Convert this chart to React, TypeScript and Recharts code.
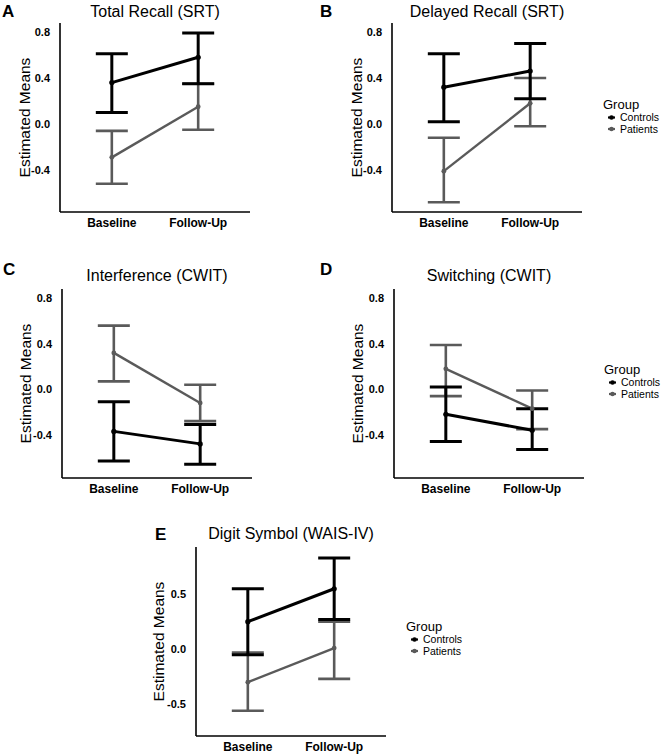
import { LineChart, Line, XAxis, YAxis, ErrorBar } from "recharts";

const FONT = "'Liberation Sans', Arial, sans-serif";

const timepoints = ["Baseline", "Follow-Up"];
const groups = ["Controls", "Patients"];
const groupColors = ["#000000", "#5a5a5a"];

// [mean, lower CI, upper CI] for each timepoint
const totalRecallControls = [[0.36, 0.1, 0.61], [0.58, 0.35, 0.79]];
const totalRecallPatients = [[-0.29, -0.52, -0.06], [0.15, -0.05, 0.35]];

const delayedRecallControls = [[0.32, 0.02, 0.61], [0.46, 0.22, 0.7]];
const delayedRecallPatients = [[-0.41, -0.68, -0.12], [0.18, -0.02, 0.4]];

const interferenceControls = [[-0.37, -0.63, -0.11], [-0.48, -0.66, -0.31]];
const interferencePatients = [[0.32, 0.07, 0.56], [-0.12, -0.28, 0.04]];

const switchingControls = [[-0.22, -0.46, 0.02], [-0.36, -0.53, -0.17]];
const switchingPatients = [[0.18, -0.06, 0.39], [-0.17, -0.35, -0.01]];

const digitSymbolControls = [[0.25, -0.05, 0.55], [0.55, 0.27, 0.83]];
const digitSymbolPatients = [[-0.3, -0.56, -0.03], [0.01, -0.27, 0.25]];

const ticksCognitive = [-0.4, 0, 0.4, 0.8];
const ticksDigit = [-0.5, 0, 0.5];

type Triple = number[];

// rows for recharts; error values are [below, above] distances from the mean
const buildRows = (ctrl: Triple[], pat: Triple[]) =>
  timepoints.map((t, i) => ({
    x: i + 1,
    label: t,
    ctrl: ctrl[i][0],
    ctrlErr: [ctrl[i][0] - ctrl[i][1], ctrl[i][2] - ctrl[i][0]],
    pat: pat[i][0],
    patErr: [pat[i][0] - pat[i][1], pat[i][2] - pat[i][0]],
  }));

interface PanelCfg {
  letter: string;
  title: string;
  left: number;
  top: number;
  width: number;
  height: number;
  plot: { x0: number; x1: number; y0: number; y1: number };
  domain: [number, number];
  ticks: number[];
  rows: ReturnType<typeof buildRows>;
  letterX: number;
  letterY: number;
  titleY: number;
  yLabX: number;
  legend?: { x: number; y: number };
}

const panels: PanelCfg[] = [
  {
    letter: "A", title: "Total Recall (SRT)", left: 0, top: 0, width: 331, height: 245,
    plot: { x0: 60, x1: 250, y0: 23, y1: 212 }, domain: [-0.765, 0.878], ticks: ticksCognitive,
    rows: buildRows(totalRecallControls, totalRecallPatients),
    letterX: 2, letterY: 17, titleY: 17, yLabX: 30,
  },
  {
    letter: "B", title: "Delayed Recall (SRT)", left: 331, top: 0, width: 331, height: 245,
    plot: { x0: 392, x1: 582, y0: 23, y1: 212 }, domain: [-0.765, 0.878], ticks: ticksCognitive,
    rows: buildRows(delayedRecallControls, delayedRecallPatients),
    letterX: 320, letterY: 17, titleY: 17, yLabX: 362,
    legend: { x: 603, y: 109 },
  },
  {
    letter: "C", title: "Interference (CWIT)", left: 0, top: 250, width: 331, height: 256,
    plot: { x0: 62, x1: 252, y0: 289, y1: 478 }, domain: [-0.78, 0.882], ticks: ticksCognitive,
    rows: buildRows(interferenceControls, interferencePatients),
    letterX: 3, letterY: 275, titleY: 281, yLabX: 31,
  },
  {
    letter: "D", title: "Switching (CWIT)", left: 331, top: 250, width: 331, height: 256,
    plot: { x0: 394, x1: 584, y0: 289, y1: 478 }, domain: [-0.78, 0.882], ticks: ticksCognitive,
    rows: buildRows(switchingControls, switchingPatients),
    letterX: 320, letterY: 275, titleY: 281, yLabX: 363,
    legend: { x: 604, y: 374 },
  },
  {
    letter: "E", title: "Digit Symbol (WAIS-IV)", left: 140, top: 500, width: 280, height: 256,
    plot: { x0: 196, x1: 386, y0: 547, y1: 736 }, domain: [-0.79, 0.93], ticks: ticksDigit,
    rows: buildRows(digitSymbolControls, digitSymbolPatients),
    letterX: 155, letterY: 540, titleY: 539, yLabX: 164,
    legend: { x: 406, y: 631 },
  },
];

function PanelChart({ p }: { p: PanelCfg }) {
  const margin = {
    top: p.plot.y0 - p.top,
    right: p.left + p.width - p.plot.x1,
    bottom: 0,
    left: 0,
  };
  const axisLine = { stroke: "#000", strokeWidth: 1.6 };
  return (
    <div style={{ position: "absolute", left: p.left, top: p.top }}>
      <LineChart width={p.width} height={p.height} data={p.rows} margin={margin}>
        <XAxis
          type="number"
          dataKey="x"
          domain={[0.4, 2.6]}
          ticks={[1, 2]}
          tickFormatter={(v: number) => timepoints[v - 1]}
          height={p.top + p.height - p.plot.y1}
          axisLine={axisLine}
          tickLine={false}
          tickSize={0}
          tickMargin={6}
          tick={{ fill: "#000", fontSize: 12, fontWeight: "bold", fontFamily: FONT }}
        />
        <YAxis
          type="number"
          domain={p.domain}
          ticks={p.ticks}
          tickFormatter={(v: number) => v.toFixed(1)}
          width={p.plot.x0 - p.left}
          axisLine={axisLine}
          tickLine={false}
          tickSize={0}
          tickMargin={10}
          tick={{ fill: "#000", fontSize: 11, fontWeight: "bold", fontFamily: FONT }}
        />
        <Line
          dataKey="pat"
          stroke={groupColors[1]}
          strokeWidth={2.4}
          dot={{ r: 2.4, fill: groupColors[1], stroke: groupColors[1], strokeWidth: 0 }}
          isAnimationActive={false}
        >
          <ErrorBar dataKey="patErr" direction="y" width={16} stroke={groupColors[1]} strokeWidth={2.6} />
        </Line>
        <Line
          dataKey="ctrl"
          stroke={groupColors[0]}
          strokeWidth={3}
          dot={{ r: 2.6, fill: groupColors[0], stroke: groupColors[0], strokeWidth: 0 }}
          isAnimationActive={false}
        >
          <ErrorBar dataKey="ctrlErr" direction="y" width={16} stroke={groupColors[0]} strokeWidth={3} />
        </Line>
      </LineChart>
    </div>
  );
}

function Overlay() {
  return (
    <svg
      width={662}
      height={756}
      style={{ position: "absolute", left: 0, top: 0, pointerEvents: "none" }}
      fontFamily={FONT}
    >
      {panels.map((p) => {
        const cx = (p.plot.x0 + p.plot.x1) / 2;
        const cy = (p.plot.y0 + p.plot.y1) / 2;
        return (
          <g key={p.letter}>
            <text x={p.letterX} y={p.letterY} fontSize={17} fontWeight="bold" fill="#000">
              {p.letter}
            </text>
            <text x={cx} y={p.titleY} fontSize={16} textAnchor="middle" fill="#000">
              {p.title}
            </text>
            <text
              transform={`translate(${p.yLabX},${cy}) rotate(-90)`}
              fontSize={15.5}
              textAnchor="middle"
              fill="#000"
            >
              Estimated Means
            </text>
            {p.legend && (
              <g>
                <text x={p.legend.x} y={p.legend.y} fontSize={13} fill="#000">
                  Group
                </text>
                {groups.map((g, i) => {
                  const y = p.legend!.y + 12 + i * 11.5;
                  return (
                    <g key={g}>
                      <line
                        x1={p.legend!.x + 5}
                        x2={p.legend!.x + 12}
                        y1={y - 3.5}
                        y2={y - 3.5}
                        stroke={groupColors[i]}
                        strokeWidth={2.2}
                      />
                      <circle cx={p.legend!.x + 8.5} cy={y - 3.5} r={2.3} fill={groupColors[i]} />
                      <text x={p.legend!.x + 17} y={y} fontSize={10.5} fill="#000">
                        {g}
                      </text>
                    </g>
                  );
                })}
              </g>
            )}
          </g>
        );
      })}
    </svg>
  );
}

export default function App() {
  return (
    <div style={{ position: "absolute", left: 0, top: 0, width: 662, height: 756, background: "#fff" }}>
      {panels.map((p) => (
        <PanelChart key={p.letter} p={p} />
      ))}
      <Overlay />
    </div>
  );
}
